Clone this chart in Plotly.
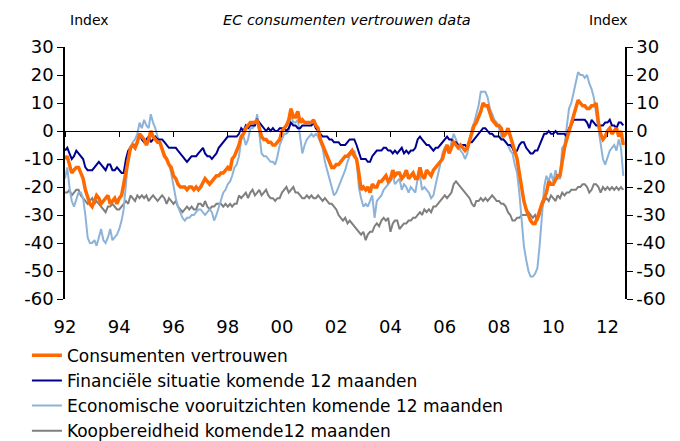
import pandas as pd
import plotly.graph_objects as go

# Monthly data, Jan 1992 - Aug 2012
cons = [
    -10, -9, -12, -15, -14, -13, -13, -15, -17, -21, -24, -26,   # 1992
    -27, -25, -23, -24, -26, -25, -24, -23, -26, -25, -24, -26,  # 1993
    -24, -23, -19, -14, -9, -6, -5, -6, -4, -1, -2, -3,          # 1994
    -5, -3, 0, -2, -3, -4, -4, -7, -9, -10, -12, -13,            # 1995
    -16, -17, -19, -20, -20, -20, -21, -20, -20, -21, -20, -21,  # 1996
    -20, -18, -17, -18, -19, -18, -17, -16, -16, -15, -15, -14,  # 1997
    -13, -14, -10, -9, -7, -5, -2, -1, 1, 2, 3, 3,               # 1998
    3, 4, 1, -2, -3, -3, -4, -4, -5, -5, -4, -3,                 # 1999
    0, 1, 2, 4, 8, 5, 5, 7, 3, 4, 3, 3,                          # 2000
    3, 3, 4, 2, 1, -3, -5, -7, -9, -11, -13, -13,                # 2001
    -12, -12, -11, -10, -9, -9, -8, -7, -9, -10, -15, -21,       # 2002
    -20, -21, -20, -22, -19, -20, -20, -18, -18, -17, -16, -18,  # 2003
    -17, -14, -16, -15, -15, -17, -16, -14, -17, -16, -15, -17,  # 2004
    -17, -13, -16, -17, -14, -15, -16, -14, -13, -12, -11, -10,  # 2005
    -7, -5, -8, -6, -4, -5, -6, -5, -6, -7, -6, -3,              # 2006
    0, 2, 3, 5, 7, 10, 9, 9, 6, 4, 3, 2,                         # 2007
    2, 1, -2, -1, 1, -2, -4, -7, -10, -15, -20, -25,             # 2008
    -28, -30, -32, -33, -33, -31, -28, -26, -24, -22, -18, -19,  # 2009
    -19, -17, -16, -16, -10, -6, -3, 0, 2, 5, 9, 11,             # 2010
    10, 9, 9, 8, 8, 9, 9, 10, 3, -1, -3, -2,                     # 2011
    0, 1, -1, 0, 1, -2, 0, -5,                                   # 2012
]
fin = [
    -7, -6, -8, -10, -9, -7, -8, -9, -10, -13, -14, -14,
    -14, -13, -12, -11, -12, -13, -14, -12, -12, -14, -14, -13,
    -14, -15, -15, -10, -7, -6, -5, -5, -4, -1, -3, -4,
    -3, -2, -4, -3, -2, -3, -3, -3, -4, -5, -6, -6,
    -6, -6, -7, -8, -9, -10, -11, -10, -9, -9, -9, -8,
    -7, -6, -8, -9, -9, -10, -9, -8, -6, -5, -4, -3,
    -2, -2, -2, -2, -2, -1, 1, 0, 2, 1, 2, 2,
    2, 4, 3, 2, 1, 0, 1, 0, 1, 0, 0, 1,
    1, 1, 0, 1, 3, 2, 2, 1, 1, 2, 2, 2,
    2, 2, 3, 1, 0, -1, -2, -2, -2, -3, -3, -4,
    -4, -4, -5, -5, -5, -4, -3, -3, -3, -5, -8, -10,
    -10, -10, -11, -11, -9, -8, -7, -7, -7, -6, -6, -7,
    -7, -8, -7, -8, -7, -6, -8, -7, -8, -7, -7, -6,
    -3, -2, -3, -4, -5, -5, -6, -7, -6, -6, -5, -4,
    -3, -2, -3, -3, -4, -4, -5, -5, -5, -5, -6, -4,
    -4, -3, -2, -1, 0, 1, 1, 0, -1, -1, -2, -2,
    -2, -3, -3, -4, -5, -5, -6, -8, -7, -5, -4, -4,
    -6, -7, -8, -8, -7, -7, -5, -3, -1, -1, 0, -1,
    -1, 0, -1, -1, -1, -1, -2, 1, 2, 4, 4, 4,
    4, 4, 4, 3, 1, 4, 3, 2, 2, 2, 2, 3,
    3, 4, 2, 2, 1, 3, 3, 2,
]
eco = [
    -17, -13, -20, -25, -27, -24, -22, -22, -24, -30, -38, -40,
    -40, -39, -41, -38, -35, -39, -40, -38, -35, -39, -38, -37,
    -35, -32, -28, -19, -10, -6, -4, -3, -1, 3, 1, 4,
    2, 1, 6, 3, 1, -2, -4, -6, -8, -10, -12, -15,
    -20, -24, -27, -29, -31, -32, -31, -31, -30, -30, -29, -28,
    -28, -29, -30, -29, -28, -29, -32, -30, -27, -24, -22, -21,
    -19, -18, -16, -13, -12, -9, -3, -2, -5, -3, 1, 1,
    2, 6, -1, -8, -9, -9, -10, -11, -11, -12, -9, -5,
    -3, -1, -1, 0, 6, 3, 3, 4, -2, -8, -5, -3,
    -2, -1, -2, -1, -2, -4, -6, -11, -14, -17, -20, -23,
    -22, -20, -18, -16, -14, -11, -9, -8, -7, -10, -20, -24,
    -27, -26, -27, -25, -23, -31, -25, -24, -23, -21, -20, -19,
    -18, -16, -19, -18, -17, -21, -19, -20, -22, -20, -21, -22,
    -17, -16, -21, -20, -21, -22, -24, -23, -19, -16, -12, -8,
    -6, -5, -7, -4, -1, -3, -5, -7, -8, -10, -8, -4,
    1, 3, 6, 9, 14, 14, 14, 12, 8, 6, 4, 3,
    1, -2, -3, -4, -5, -7, -8, -12, -15, -22, -32, -41,
    -46, -50, -52, -52, -51, -49, -41, -30, -20, -16, -18, -15,
    -18, -14, -17, -17, -6, -5, 2, 8, 10, 14, 17, 21,
    20, 20, 19, 20, 17, 15, 12, 6, 1, -4, -10, -12,
    -9, -7, -6, -5, -7, -3, -6, -16,
]
koop = [
    -22, -22, -21, -23, -22, -21, -21, -23, -24, -25, -26, -25,
    -24, -26, -25, -26, -27, -28, -29, -27, -27, -26, -27, -28,
    -28, -27, -26, -25, -26, -23, -24, -25, -23, -24, -23, -24,
    -23, -25, -24, -23, -24, -25, -24, -23, -24, -26, -24, -25,
    -26, -25, -27, -28, -29, -28, -27, -28, -27, -28, -28, -26,
    -26, -27, -25, -27, -28, -27, -27, -26, -26, -26, -27, -26,
    -27, -26, -27, -26, -26, -23, -24, -23, -22, -24, -22, -21,
    -23, -22, -21, -23, -22, -21, -23, -24, -24, -25, -24, -24,
    -22, -21, -20, -22, -21, -20, -22, -22, -23, -24, -24, -23,
    -24, -23, -24, -24, -23, -24, -25, -24, -25, -26, -26, -27,
    -28, -30, -31, -32, -31, -33, -32, -33, -34, -35, -36, -37,
    -36, -39, -37, -36, -36, -34, -33, -34, -32, -31, -32, -31,
    -36, -33, -32, -32, -35, -34, -33, -33, -32, -32, -31, -31,
    -30, -29, -30, -28, -29, -28, -29, -27, -27, -26, -25, -24,
    -23, -24, -23, -22, -19, -18, -19, -20, -21, -22, -23, -24,
    -26, -27, -25, -25, -24, -25, -24, -25, -24, -23, -24, -25,
    -25, -26, -26, -27, -29, -30, -32, -32, -31, -31, -30, -30,
    -30, -29, -30, -31, -30, -32, -30, -27, -25, -24, -25, -23,
    -24, -25, -23, -24, -22, -23, -22, -22, -21, -21, -21, -20,
    -20, -19, -19, -20, -22, -21, -19, -19, -20, -22, -20, -21,
    -20, -21, -20, -21, -20, -21, -20, -21,
]
dates = pd.date_range("1992-01-01", periods=len(cons), freq="MS")

series_names = [
    "Consumenten vertrouwen",
    "Financiële situatie komende 12 maanden",
    "Economische vooruitzichten komende 12 maanden",
    "Koopbereidheid komende12 maanden",
]
tick_years = list(range(1992, 2013, 2))
tick_labels = [f"{y % 100:02d}" for y in tick_years]
y_ticks = list(range(-60, 31, 10))
y_tick_labels = [str(v) for v in y_ticks]  # plain hyphen-minus, as in the original

FONT = "DejaVu Sans"
x_range = ["1992-01-01", "2012-08-24"]

fig = go.Figure()
# draw order: gray, light blue, dark blue, orange on top; legend ordered by rank
styles = [
    (koop, series_names[3], "#7F7F7F", 2, 4),
    (eco, series_names[2], "#8DB3D9", 2, 3),
    (fin, series_names[1], "#000090", 2, 2),
    (cons, series_names[0], "#FF6A00", 3.5, 1),
]
for vals, name, color, w, rank in styles:
    fig.add_trace(go.Scatter(
        x=dates, y=vals, name=name, mode="lines",
        line=dict(color=color, width=w),
        legendrank=rank,
    ))

# invisible helper traces so the right y-axis and the zero-line x-axis render
fig.add_trace(go.Scatter(x=dates[:1], y=[0], yaxis="y2", mode="lines",
                         showlegend=False, hoverinfo="skip", opacity=0))
fig.add_trace(go.Scatter(x=dates[:1], y=[0], xaxis="x2", mode="lines",
                         showlegend=False, hoverinfo="skip", opacity=0))

tickvals = [f"{y}-01-01" for y in tick_years]
yaxis_common = dict(
    range=[-60, 30], tickvals=y_ticks, ticktext=y_tick_labels,
    showgrid=False, zeroline=False, automargin=False,
    showline=True, linecolor="black", linewidth=1.5,
    ticks="outside", ticklen=6, tickcolor="black",
    tickfont=dict(family=FONT, size=18),
)
# the page adds an 8px body margin, so the margins are reduced by 8px here
fig.update_layout(
    width=680, height=441,
    margin=dict(l=57, r=63, t=39, b=150, autoexpand=False),
    paper_bgcolor="white", plot_bgcolor="white",
    font=dict(family=FONT, color="black"),
    showlegend=True,
    legend=dict(
        x=-0.068, y=-0.154, xanchor="left", yanchor="top",
        font=dict(family=FONT, size=17, color="black"),
        tracegroupgap=0, bgcolor="rgba(0,0,0,0)",
    ),
    xaxis=dict(
        type="date", range=x_range, tickvals=tickvals, ticktext=tick_labels,
        showgrid=False, zeroline=False, showline=False, ticks="",
        ticklabelstandoff=15, automargin=False,
        tickfont=dict(family=FONT, size=18),
    ),
    xaxis2=dict(
        type="date", range=x_range, tickvals=tickvals, showticklabels=False,
        overlaying="x", anchor="free", position=2/3, side="bottom",
        showgrid=False, zeroline=False, showline=True, linecolor="black",
        linewidth=1, ticks="outside", ticklen=5, tickcolor="black", tickwidth=1,
    ),
    yaxis=yaxis_common,
    yaxis2=dict(yaxis_common, overlaying="y", side="right"),
    annotations=[
        dict(text="EC consumenten vertrouwen data", xref="paper", yref="paper",
             x=0.504, y=1 + 27 / 252, xanchor="center", yanchor="middle",
             showarrow=False, font=dict(family=FONT, size=14.5, style="italic")),
        dict(text="Index", xref="paper", yref="paper", x=0.005, y=1 + 27 / 252,
             xanchor="left", yanchor="middle", showarrow=False,
             font=dict(family=FONT, size=14)),
        dict(text="Index", xref="paper", yref="paper", x=0.97, y=1 + 27 / 252,
             xanchor="center", yanchor="middle", showarrow=False,
             font=dict(family=FONT, size=14)),
    ],
)

fig.write_html("out.html")
